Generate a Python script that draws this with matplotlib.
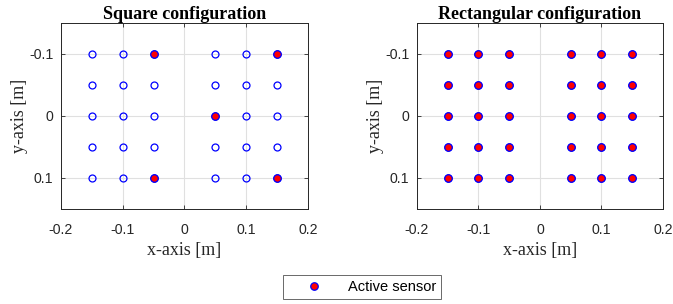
import matplotlib
matplotlib.use("Agg")
import matplotlib.pyplot as plt
from matplotlib.lines import Line2D

# Sensor grid
sensor_x = [-0.15, -0.10, -0.05, 0.05, 0.10, 0.15]
sensor_y = [-0.10, -0.05, 0.00, 0.05, 0.10]

# Active sensors
square_active_x = [-0.05, 0.15, 0.05, -0.05, 0.15]
square_active_y = [-0.10, -0.10, 0.00, 0.10, 0.10]
rect_active_x = [x for y in sensor_y for x in sensor_x]
rect_active_y = [y for y in sensor_y for x in sensor_x]

titles = ["Square configuration", "Rectangular configuration"]
x_ticks = [-0.2, -0.1, 0, 0.1, 0.2]
x_ticklabels = ["-0.2", "-0.1", "0", "0.1", "0.2"]
y_ticks = [-0.1, 0, 0.1]
y_ticklabels = ["-0.1", "0", "0.1"]

fig = plt.figure(figsize=(6.73, 3.04), dpi=100)
ax1 = fig.add_axes([0.0906, 0.3125, 0.367, 0.612])
ax2 = fig.add_axes([0.6196, 0.3125, 0.3655, 0.612])

all_x = [x for y in sensor_y for x in sensor_x]
all_y = [y for y in sensor_y for x in sensor_x]

for ax, title, ax_x, ax_y in [(ax1, titles[0], square_active_x, square_active_y),
                              (ax2, titles[1], rect_active_x, rect_active_y)]:
    ax.plot(all_x, all_y, linestyle="none", marker="o", markersize=5,
            markerfacecolor="none", markeredgecolor="blue", markeredgewidth=0.9, zorder=3)
    ax.plot(ax_x, ax_y, linestyle="none", marker="o", markersize=5.4,
            markerfacecolor="red", markeredgecolor="blue", markeredgewidth=0.9, zorder=4)
    ax.set_xlim(-0.2, 0.2)
    ax.set_ylim(0.15, -0.15)
    ax.set_xticks(x_ticks)
    ax.set_xticklabels(x_ticklabels, family="Liberation Sans", fontsize=10.2)
    ax.set_yticks(y_ticks)
    ax.set_yticklabels(y_ticklabels, family="Liberation Sans", fontsize=10.2)
    ax.tick_params(direction="in", top=True, right=True, length=3, width=0.6, colors="#262626")
    ax.tick_params(axis="x", pad=10)
    ax.tick_params(axis="y", pad=5.5)
    ax.grid(True, color="#e0e0e0", linewidth=0.8, zorder=0)
    ax.set_axisbelow(True)
    for s in ax.spines.values():
        s.set_linewidth(0.7)
        s.set_color("#262626")
    ax.set_title(title, family="Liberation Serif", fontweight="bold", fontsize=13, pad=3)
    ax.set_xlabel("x-axis [m]", family="Liberation Serif", fontsize=13, color="#262626", labelpad=4)
    ax.set_ylabel("y-axis [m]", family="Liberation Serif", fontsize=13, color="#262626", labelpad=1)

handle = Line2D([], [], linestyle="none", marker="o", markersize=5.4,
                markerfacecolor="red", markeredgecolor="blue", markeredgewidth=0.9)
leg = fig.legend([handle], ["Active sensor"], loc="center", bbox_to_anchor=(0.538, 0.056),
                 prop={"family": "Liberation Sans", "size": 10.5}, frameon=True, fancybox=False,
                 edgecolor="#262626", handlelength=3.6, borderpad=0.35, handletextpad=0.5,
                 borderaxespad=0)
leg.get_frame().set_linewidth(0.6)

fig.savefig("out.png", dpi=100)
